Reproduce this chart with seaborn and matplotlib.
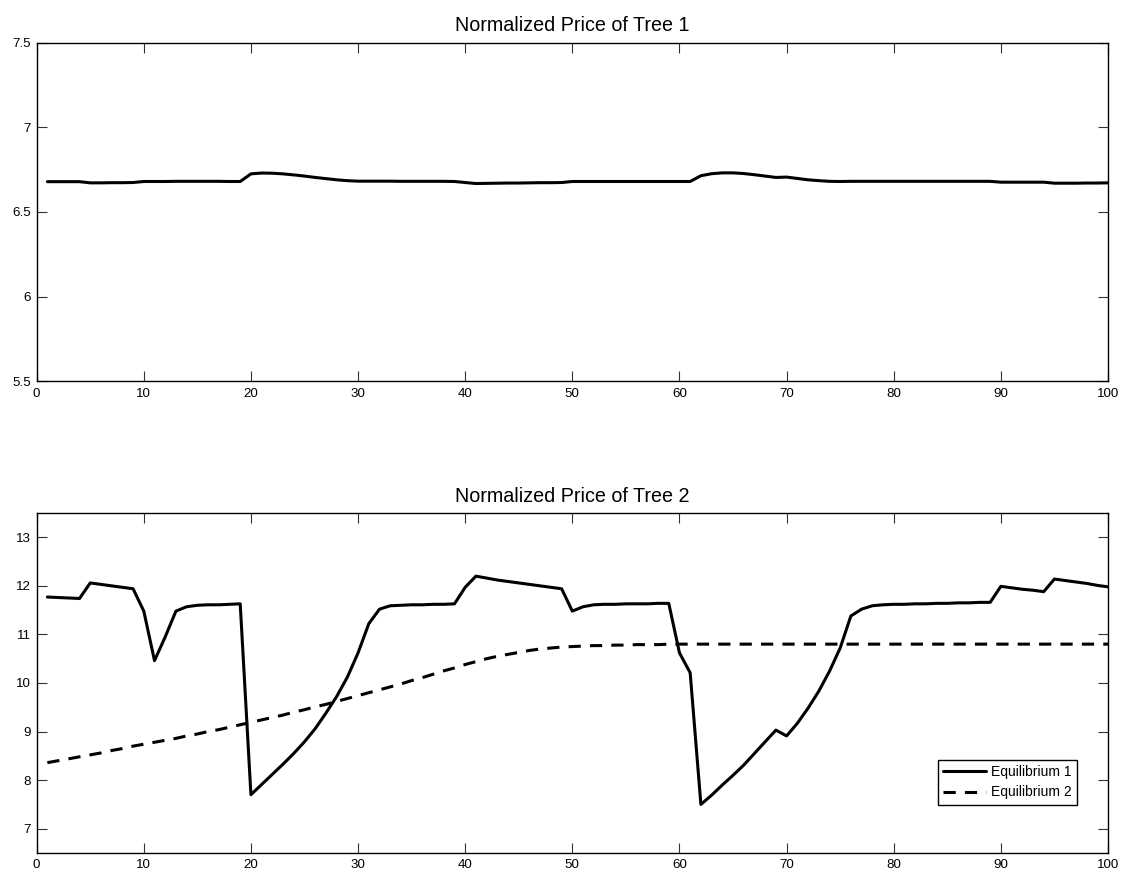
import matplotlib
matplotlib.use("Agg")
import matplotlib.pyplot as plt
import matplotlib.ticker as ticker
import seaborn as sns

# time steps
steps = list(range(1, 101))

# normalized price of tree 1
tree1_price = [
    6.679, 6.679, 6.679, 6.679,
    6.672, 6.672, 6.673, 6.673, 6.674,
    6.680, 6.680, 6.680, 6.681, 6.681, 6.681, 6.681, 6.681, 6.680, 6.680,
    6.725, 6.730, 6.729, 6.725, 6.719, 6.712, 6.704, 6.697, 6.690, 6.685, 6.682,
    6.682, 6.682, 6.682, 6.681, 6.681, 6.681, 6.681, 6.681, 6.680,
    6.674, 6.668, 6.669, 6.670, 6.671, 6.671, 6.672, 6.673, 6.673, 6.674,
    6.680, 6.680, 6.680, 6.680, 6.680, 6.680, 6.680, 6.680, 6.680, 6.680, 6.680, 6.680,
    6.714, 6.726, 6.731, 6.731, 6.727, 6.720, 6.712, 6.704, 6.706, 6.698, 6.690, 6.685, 6.681, 6.680,
    6.681, 6.681, 6.681, 6.681, 6.681, 6.681, 6.681, 6.681, 6.681, 6.681, 6.681, 6.681, 6.681, 6.681,
    6.676, 6.676, 6.676, 6.676, 6.676,
    6.670, 6.670, 6.670, 6.671, 6.671, 6.672,
]

# normalized price of tree 2, equilibrium 1
tree2_eq1 = [
    11.77, 11.76, 11.75, 11.74,
    12.06, 12.03, 12.00, 11.97, 11.94,
    11.48, 10.46, 10.95, 11.48, 11.57, 11.60, 11.61, 11.61, 11.62, 11.63,
    7.70, 7.91, 8.12, 8.33, 8.55, 8.79, 9.06, 9.38, 9.72, 10.12, 10.62, 11.22, 11.52,
    11.59, 11.60, 11.61, 11.61, 11.62, 11.62, 11.63,
    11.97, 12.20, 12.16, 12.12, 12.09, 12.06, 12.03, 12.00, 11.97, 11.94,
    11.48, 11.57, 11.61, 11.62, 11.62, 11.63, 11.63, 11.63, 11.64, 11.64,
    10.62, 10.21,
    7.50, 7.69, 7.90, 8.10, 8.31, 8.55, 8.79, 9.03, 8.91, 9.17, 9.48, 9.83, 10.24, 10.72, 11.38,
    11.52, 11.59, 11.61, 11.62, 11.62, 11.63, 11.63, 11.64, 11.64, 11.65, 11.65, 11.66, 11.66,
    11.99, 11.96, 11.93, 11.91, 11.88,
    12.14, 12.11, 12.08, 12.05, 12.01, 11.98,
]

# normalized price of tree 2, equilibrium 2
tree2_eq2 = [
    8.36, 8.40, 8.44, 8.48, 8.52, 8.56, 8.61, 8.65, 8.70, 8.74,
    8.78, 8.82, 8.86, 8.91, 8.95, 9.00, 9.04, 9.09, 9.14, 9.19,
    9.24, 9.29, 9.34, 9.40, 9.45, 9.51, 9.56, 9.62, 9.68, 9.74,
    9.80, 9.86, 9.92, 9.98, 10.05, 10.11, 10.18, 10.25, 10.31, 10.38,
    10.44, 10.50, 10.55, 10.59, 10.63, 10.67, 10.70, 10.72, 10.74, 10.75,
    10.76, 10.77, 10.77, 10.78, 10.78, 10.79, 10.79, 10.79, 10.80, 10.80,
    10.80, 10.80, 10.80, 10.80, 10.80, 10.80, 10.80, 10.80, 10.80, 10.80,
    10.80, 10.80, 10.80, 10.80, 10.80, 10.80, 10.80, 10.80, 10.80, 10.80,
    10.80, 10.80, 10.80, 10.80, 10.80, 10.80, 10.80, 10.80, 10.80, 10.80,
    10.80, 10.80, 10.80, 10.80, 10.80, 10.80, 10.80, 10.80, 10.80, 10.80,
]

titles = ["Normalized Price of Tree 1", "Normalized Price of Tree 2"]
legend_labels = ["Equilibrium 1", "Equilibrium 2"]

sns.set_style("ticks")
plt.rcParams['font.family'] = ['Liberation Sans', 'DejaVu Sans']
plt.rcParams['text.color'] = 'black'
plt.rcParams['xtick.labelcolor'] = 'black'
plt.rcParams['ytick.labelcolor'] = 'black'


def style_axes(ax, ylim, yticks):
    ax.set_xlim(0, 100)
    ax.set_ylim(*ylim)
    ax.xaxis.set_major_locator(ticker.MultipleLocator(10))
    ax.set_yticks(yticks)
    ax.yaxis.set_major_formatter(ticker.FormatStrFormatter('%g'))
    ax.tick_params(direction='in', length=7.2, width=0.8, top=True, right=True,
                   labelsize=9.6, color='#333333', labelcolor='black')
    ax.tick_params(axis='x', pad=4.5)
    ax.tick_params(axis='y', pad=4.3)
    for s in ax.spines.values():
        s.set_visible(True)
        s.set_linewidth(1.0)
        s.set_color('black')
    ax.set_xlabel('')
    ax.set_ylabel('')


fig = plt.figure(figsize=(11.21, 8.72), dpi=100)
ax1 = fig.add_axes([0.0327, 0.5627, 0.9557, 0.3884])
ax2 = fig.add_axes([0.0327, 0.0218, 0.9557, 0.3899])

sns.lineplot(x=steps, y=tree1_price, ax=ax1, color='black', linewidth=2.2)
style_axes(ax1, (5.5, 7.5), [5.5, 6, 6.5, 7, 7.5])
ax1.set_title(titles[0], fontsize=14.2, pad=8.5, color='black')

sns.lineplot(x=steps, y=tree2_eq1, ax=ax2, color='black', linewidth=2.2,
             label=legend_labels[0])
sns.lineplot(x=steps, y=tree2_eq2, ax=ax2, color='black', linewidth=2.2,
             linestyle=(0, (4, 3)), label=legend_labels[1])
style_axes(ax2, (6.5, 13.5), [7, 8, 9, 10, 11, 12, 13])
ax2.set_title(titles[1], fontsize=14.2, pad=8, color='black')

leg = ax2.legend(loc='lower right', bbox_to_anchor=(0.971, 0.141), borderaxespad=0,
                 fontsize=10, frameon=True, fancybox=False, framealpha=1,
                 edgecolor='black', handlelength=3.1, handletextpad=0.3,
                 labelspacing=0.45, borderpad=0.4)
leg.get_frame().set_linewidth(1.0)
for t in leg.get_texts():
    t.set_color('black')

fig.savefig('out.png', dpi=100)
